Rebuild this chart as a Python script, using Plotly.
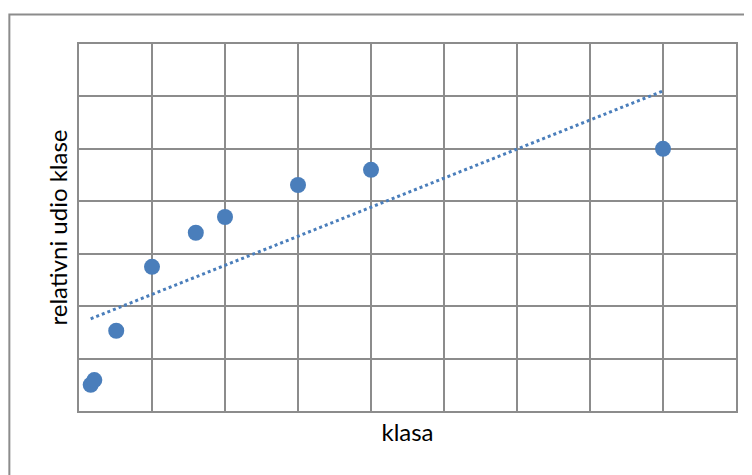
import numpy as np
import plotly.graph_objects as go

# data (axis units: one grid cell = 1)
klasa = [0.16, 0.21, 0.51, 1.0, 1.6, 2.0, 3.0, 4.0, 8.0]
udio = [0.50, 0.59, 1.53, 2.75, 3.40, 3.70, 4.31, 4.60, 5.0]

x_title = "klasa"
y_title = "relativni udio klase"

BLUE = "#4A7EBB"
GRID = "#8C8C8C"

# linear trendline, as in the spreadsheet
slope, icpt = np.polyfit(klasa, udio, 1)
tx = [min(klasa), max(klasa)]
ty = [slope * v + icpt for v in tx]

fig = go.Figure()

fig.add_trace(
    go.Scatter(
        x=tx,
        y=ty,
        mode="lines",
        line=dict(color=BLUE, width=3, dash="dot"),
        showlegend=False,
        hoverinfo="skip",
    )
)

fig.add_trace(
    go.Scatter(
        x=klasa,
        y=udio,
        mode="markers",
        marker=dict(color=BLUE, size=16, line=dict(width=0)),
        showlegend=False,
    )
)

axis_style = dict(
    showgrid=True,
    gridcolor=GRID,
    gridwidth=2,
    showline=True,
    linecolor=GRID,
    linewidth=2,
    mirror=True,
    zeroline=False,
    showticklabels=False,
    ticks="",
    dtick=1,
    automargin=False,
)

fig.update_xaxes(range=[0, 9], title=dict(text=x_title, standoff=12), **axis_style)
fig.update_yaxes(range=[0, 7], title=dict(text=y_title, standoff=3), **axis_style)

# outer chart border (right and bottom edges fall outside the picture)
fig.add_shape(
    type="rect",
    xref="paper",
    yref="paper",
    x0=-0.106,
    y0=-0.3,
    x1=1.1,
    y1=1.0804,
    line=dict(color=GRID, width=2),
    layer="below",
)

# the page puts the figure a few px in from the corner, so size/margins allow for it
fig.update_layout(
    width=745,
    height=469,
    margin=dict(l=71, r=17, t=36, b=66),
    paper_bgcolor="white",
    plot_bgcolor="white",
    font=dict(family="Lato, 'Open Sans', sans-serif", size=20, color="#000000"),
)

fig.write_html("out.html")
